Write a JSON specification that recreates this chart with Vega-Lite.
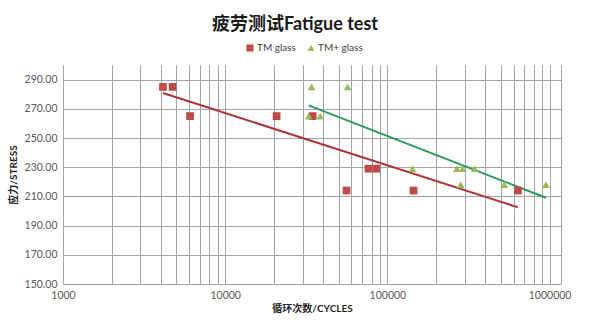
{
  "$schema": "https://vega.github.io/schema/vega-lite/v6.json",
  "width": 498,
  "height": 219,
  "autosize": {"type": "none"},
  "padding": {"left": 63, "top": 65, "right": 28, "bottom": 43},
  "background": "white",
  "title": {
    "text": "疲劳测试Fatigue test",
    "fontSize": 18,
    "font": "Lato, Noto Sans CJK SC",
    "fontWeight": "bold",
    "color": "#1a1a1a",
    "anchor": "middle",
    "dx": -17,
    "offset": 9
  },
  "config": {
    "view": {"stroke": null},
    "font": "Lato, Noto Sans CJK SC"
  },
  "datasets": {
    "points": [
      {"series": "TM glass", "cycles": 4135, "stress": 285},
      {"series": "TM glass", "cycles": 4740, "stress": 285},
      {"series": "TM glass", "cycles": 6070, "stress": 265},
      {"series": "TM glass", "cycles": 20750, "stress": 265},
      {"series": "TM glass", "cycles": 34600, "stress": 265},
      {"series": "TM glass", "cycles": 56000, "stress": 214},
      {"series": "TM glass", "cycles": 76500, "stress": 229},
      {"series": "TM glass", "cycles": 85500, "stress": 229},
      {"series": "TM glass", "cycles": 145000, "stress": 214},
      {"series": "TM glass", "cycles": 638000, "stress": 214},
      {"series": "TM+ glass", "cycles": 34100, "stress": 285},
      {"series": "TM+ glass", "cycles": 56850, "stress": 285},
      {"series": "TM+ glass", "cycles": 32700, "stress": 265},
      {"series": "TM+ glass", "cycles": 38500, "stress": 265},
      {"series": "TM+ glass", "cycles": 142900, "stress": 229},
      {"series": "TM+ glass", "cycles": 268500, "stress": 229},
      {"series": "TM+ glass", "cycles": 290800, "stress": 229},
      {"series": "TM+ glass", "cycles": 345000, "stress": 229},
      {"series": "TM+ glass", "cycles": 282700, "stress": 218},
      {"series": "TM+ glass", "cycles": 525700, "stress": 218},
      {"series": "TM+ glass", "cycles": 950000, "stress": 218}
    ],
    "trend": [
      {"line": "TM trend", "cycles": 4135, "stress": 280.8},
      {"line": "TM trend", "cycles": 638000, "stress": 202.5},
      {"line": "TM+ trend", "cycles": 32700, "stress": 272.3},
      {"line": "TM+ trend", "cycles": 950000, "stress": 209.1}
    ]
  },
  "encoding": {
    "x": {
      "field": "cycles",
      "type": "quantitative",
      "scale": {"type": "log", "domain": [1000, 1176000], "nice": false},
      "axis": {
        "title": "循环次数/CYCLES",
        "values": [1000, 2000, 3000, 4000, 5000, 6000, 7000, 8000, 9000, 10000, 20000, 30000, 40000, 50000, 60000, 70000, 80000, 90000, 100000, 200000, 300000, 400000, 500000, 600000, 700000, 800000, 900000, 1000000, 1176000],
        "labelExpr": "indexof([1000, 10000, 100000, 1000000], datum.value) >= 0 ? format(datum.value, 'd') : ''",
        "labelOverlap": false,
        "labelFlush": false,
        "grid": true,
        "gridColor": "#A3A3A8",
        "gridWidth": 1,
        "gridOpacity": 1,
        "ticks": false,
        "domain": false,
        "labelPadding": 6,
        "labelFontSize": 10.5,
        "labelColor": "#595959",
        "titleFontSize": 10,
        "titleFontWeight": "bold",
        "titleColor": "#262626",
        "titlePadding": 3
      }
    },
    "y": {
      "field": "stress",
      "type": "quantitative",
      "scale": {"domain": [150, 300], "nice": false, "zero": false},
      "axis": {
        "title": "应力/STRESS",
        "values": [150, 170, 190, 210, 230, 250, 270, 290],
        "format": ".2f",
        "grid": true,
        "gridColor": "#A3A3A8",
        "gridWidth": 1,
        "gridOpacity": 1,
        "ticks": false,
        "domain": false,
        "labelPadding": 6,
        "labelFontSize": 10.5,
        "labelColor": "#595959",
        "titleFontSize": 10,
        "titleFontWeight": "bold",
        "titleColor": "#262626",
        "titlePadding": 6
      }
    }
  },
  "layer": [
    {
      "data": {"name": "trend"},
      "mark": {"type": "line", "strokeWidth": 2},
      "encoding": {
        "stroke": {
          "field": "line",
          "type": "nominal",
          "scale": {"domain": ["TM trend", "TM+ trend"], "range": ["#B0303A", "#2A9A5A"]},
          "legend": null
        },
        "detail": {"field": "line"}
      }
    },
    {
      "data": {"name": "points"},
      "mark": {"type": "point", "filled": true, "opacity": 1, "size": 60},
      "encoding": {
        "color": {
          "field": "series",
          "type": "nominal",
          "scale": {"domain": ["TM glass", "TM+ glass"], "range": ["#BE4B48", "#9BBB59"]},
          "legend": {
            "title": null,
            "orient": "none",
            "direction": "horizontal",
            "legendX": 182,
            "legendY": -22,
            "labelFontSize": 10,
            "labelColor": "#404040",
            "symbolSize": 50,
            "columnPadding": 10,
            "labelOffset": 2
          }
        },
        "shape": {
          "field": "series",
          "type": "nominal",
          "scale": {"domain": ["TM glass", "TM+ glass"], "range": ["square", "triangle-up"]},
          "legend": {
            "title": null,
            "orient": "none",
            "direction": "horizontal",
            "legendX": 182,
            "legendY": -22,
            "labelFontSize": 10,
            "labelColor": "#404040",
            "symbolSize": 50,
            "columnPadding": 10,
            "labelOffset": 2
          }
        }
      }
    }
  ]
}
